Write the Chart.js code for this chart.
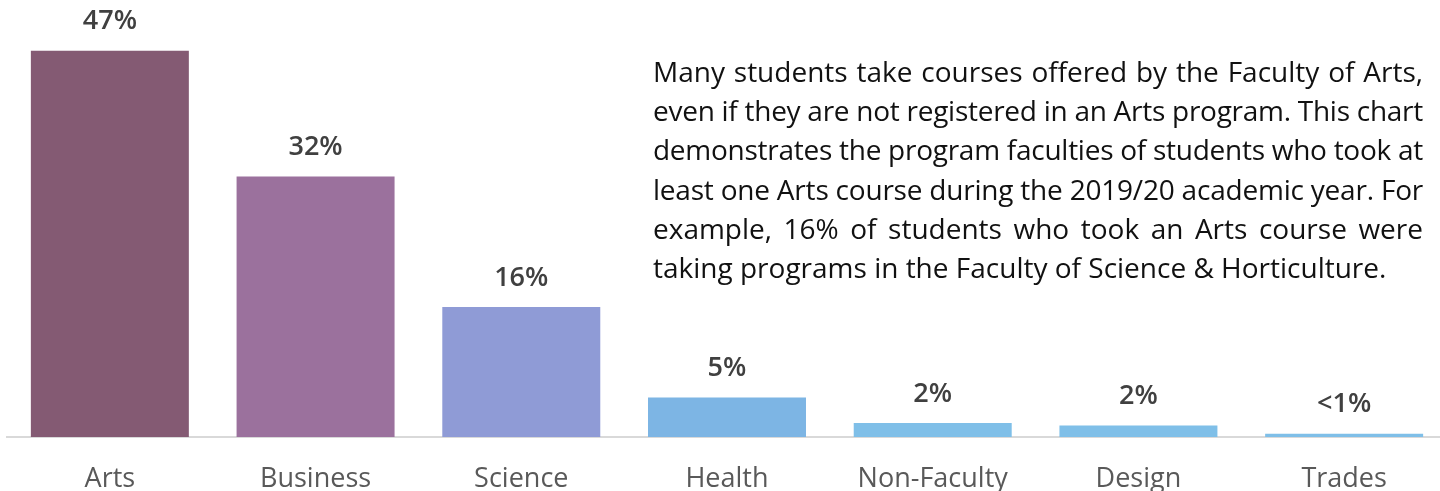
<!DOCTYPE html>
<html>
<head>
<meta charset="utf-8">
<script src="https://cdn.jsdelivr.net/npm/chart.js@4/dist/chart.umd.min.js"></script>
<style>
  html, body { margin: 0; padding: 0; background: #fff; overflow: hidden; width: 1440px; height: 491px; }
  #c { position: absolute; left: 0; top: 0; }
  #note { position: absolute; left: 653px; top: 52px; width: 770px;
          font-family: "Open Sans", "Noto Sans", sans-serif; font-size: 28px;
          line-height: 39.2px; color: #111; }
  #note div { text-align: justify; text-align-last: justify; white-space: nowrap; }
  #note div.last { text-align-last: left; }
</style>
</head>
<body>
<canvas id="c" width="1447" height="491"></canvas>
<div id="note">
  <div>Many students take courses offered by the Faculty of Arts,</div>
  <div>even if they are not registered in an Arts program. This chart</div>
  <div>demonstrates the program faculties of students who took at</div>
  <div>least one Arts course during the 2019/20 academic year. For</div>
  <div>example, 16% of students who took an Arts course were</div>
  <div class="last">taking programs in the Faculty of Science &amp; Horticulture.</div>
</div>
<script>
const categories = ["Arts", "Business", "Science", "Health", "Non-Faculty", "Design", "Trades"];
const values = [47, 31.7, 15.8, 4.8, 1.7, 1.4, 0.4];
const valueLabels = ["47%", "32%", "16%", "5%", "2%", "2%", "<1%"];
const barColors = ["#845A73", "#9B719D", "#8F9BD6", "#7DB5E4", "#7FBFE8", "#7FBFE8", "#7FBFE8"];

// fit paragraph lines that are naturally wider than the box
(function fitLines() {
  const box = 770;
  const mctx = document.createElement('canvas').getContext('2d');
  mctx.font = '28px "Open Sans", "Noto Sans", sans-serif';
  document.querySelectorAll('#note div').forEach(d => {
    const t = d.textContent;
    const w = mctx.measureText(t).width;
    if (w > box) {
      d.style.letterSpacing = ((box - w) / t.length) + 'px';
    }
  });
})();

const labelPlugin = {
  id: 'valueLabels',
  afterDatasetsDraw(chart) {
    const ctx = chart.ctx;
    const meta = chart.getDatasetMeta(0);
    ctx.save();
    ctx.font = '600 27px "Open Sans", "Noto Sans", sans-serif';
    ctx.fillStyle = '#404040';
    ctx.textAlign = 'center';
    ctx.textBaseline = 'middle';
    meta.data.forEach((bar, i) => {
      ctx.fillText(valueLabels[i], bar.x, bar.y - 29);
    });
    ctx.restore();
  }
};

new Chart(document.getElementById('c'), {
  type: 'bar',
  data: {
    labels: categories,
    datasets: [{
      data: values,
      backgroundColor: barColors,
      borderWidth: 0,
      barPercentage: 0.768,
      categoryPercentage: 1.0
    }]
  },
  options: {
    responsive: false,
    animation: false,
    layout: { padding: { top: 26, bottom: 0, left: 7, right: 0 } },
    plugins: { legend: { display: false }, tooltip: { enabled: false } },
    scales: {
      x: {
        grid: { display: false, drawTicks: false },
        border: { display: true, color: '#D9D9D9', width: 2 },
        ticks: {
          color: '#595959',
          padding: 29,
          font: { family: '"Open Sans", "Noto Sans", sans-serif', size: 27, lineHeight: 1.0 }
        },
        afterFit(scale) { scale.height = 54; }
      },
      y: {
        display: false,
        min: 0,
        max: 50
      }
    }
  },
  plugins: [labelPlugin]
});
</script>
</body>
</html>
